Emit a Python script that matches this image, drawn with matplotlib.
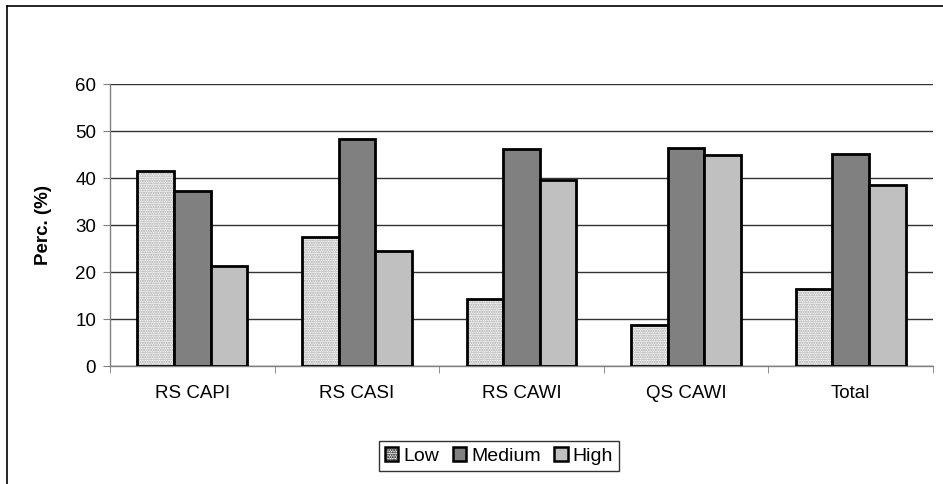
import numpy as np
import matplotlib.pyplot as plt
from matplotlib.patches import Patch
from matplotlib.lines import Line2D

plt.rcParams['font.family'] = ['Liberation Sans', 'DejaVu Sans']
plt.rcParams['hatch.linewidth'] = 1.0

categories = ['RS CAPI', 'RS CASI', 'RS CAWI', 'QS CAWI', 'Total']
levels = ['Low', 'Medium', 'High']
low = [41.4, 27.4, 14.2, 8.7, 16.3]
medium = [37.3, 48.2, 46.2, 46.4, 45.2]
high = [21.3, 24.4, 39.6, 44.8, 38.5]
yticks = [0, 10, 20, 30, 40, 50, 60]

series = [low, medium, high]
faces = ['#f4f4f4', '#808080', '#c0c0c0']
hatches = ['.......', None, None]
fs = 13.5

fig = plt.figure(figsize=(9.43, 4.84), dpi=100)
ax = fig.add_axes([0.1166, 0.2438, 0.8728, 0.5826])

x = np.arange(len(categories))
w = 0.667 / 3
for i, vals in enumerate(series):
    pos = x - w + i * w
    if hatches[i]:
        # dotted fill first, outline drawn on top
        ax.bar(pos, vals, w, color=faces[i], hatch=hatches[i],
               edgecolor='#a8a8a8', linewidth=0, zorder=2)
        ax.bar(pos, vals, w, fill=False, edgecolor='black', linewidth=2.0, zorder=3)
    else:
        ax.bar(pos, vals, w, color=faces[i], edgecolor='black', linewidth=2.0, zorder=3)

ax.set_xlim(-0.5, len(categories) - 0.5)
ax.set_ylim(0, 60)
ax.set_yticks(yticks)
ax.set_xticks(x)
ax.set_xticklabels(categories)
ax.set_xticks(np.arange(len(categories) + 1) - 0.5, minor=True)
ax.tick_params(axis='x', which='major', length=0, pad=14, labelsize=fs)
ax.tick_params(axis='x', which='minor', length=5, color='#808080', direction='out')
ax.tick_params(axis='y', length=5, color='#808080', direction='out', pad=5, labelsize=fs)

ax.set_axisbelow(True)
ax.yaxis.grid(True, color='#333333', linewidth=1.0, zorder=0)
for s in ['top', 'right']:
    ax.spines[s].set_visible(False)
for s in ['left', 'bottom']:
    ax.spines[s].set_color('#808080')
    ax.spines[s].set_linewidth(1.0)

ax.set_ylabel('Perc. (%)', fontsize=fs, fontweight='bold')
ax.yaxis.set_label_coords(-0.070, 0.5)

handles = [Patch(facecolor=faces[i], edgecolor='black', linewidth=1.8,
                 hatch=hatches[i]) for i in range(3)]
leg = ax.legend(handles, levels, loc='center', bbox_to_anchor=(0.529, 0.058),
                bbox_transform=fig.transFigure, ncol=3, fontsize=fs + 0.5,
                frameon=True, fancybox=False, handlelength=0.7, handleheight=0.7,
                handletextpad=0.25, columnspacing=0.7, borderpad=0.3,
                borderaxespad=0)
leg.get_frame().set_edgecolor('black')
leg.get_frame().set_linewidth(1.0)

# chart-area frame, left and top edges
fig.add_artist(Line2D([7 / 943, 7 / 943], [0, 1 - 6 / 484], color='black',
                      linewidth=1.2, transform=fig.transFigure))
fig.add_artist(Line2D([7 / 943, 1], [1 - 6 / 484, 1 - 6 / 484], color='black',
                      linewidth=1.2, transform=fig.transFigure))

fig.savefig('out.png', dpi=100)
